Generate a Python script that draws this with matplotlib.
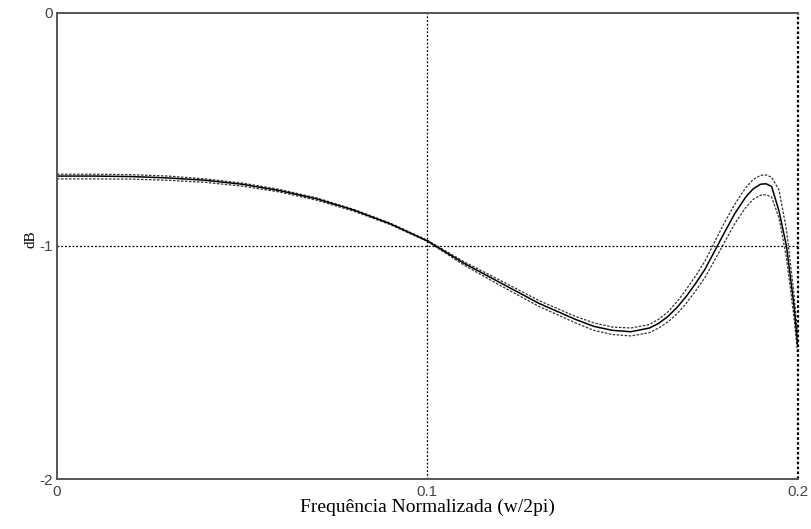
import matplotlib.pyplot as plt

# Magnitude response of the filter (dB) vs normalized frequency, with upper/lower bounds
FREQ = [0.0, 0.01, 0.02, 0.03, 0.04, 0.05, 0.06, 0.07, 0.08, 0.09, 0.10,
        0.11, 0.12, 0.13, 0.14, 0.145, 0.15, 0.155, 0.16, 0.1625, 0.165,
        0.1675, 0.17, 0.1725, 0.175, 0.178, 0.18, 0.183, 0.186, 0.188,
        0.19, 0.1915, 0.193, 0.195, 0.197, 0.199, 0.2]

GAIN_MID = [-0.700, -0.700, -0.702, -0.708, -0.718, -0.735, -0.762, -0.797,
            -0.845, -0.905, -0.978, -1.075, -1.160, -1.245, -1.315, -1.345,
            -1.362, -1.368, -1.352, -1.332, -1.302, -1.263, -1.215, -1.160,
            -1.100, -1.010, -0.950, -0.862, -0.790, -0.755, -0.735, -0.733,
            -0.745, -0.850, -1.000, -1.250, -1.420]

GAIN_UP = [-0.692, -0.692, -0.694, -0.700, -0.712, -0.730, -0.757, -0.793,
           -0.842, -0.902, -0.975, -1.068, -1.150, -1.233, -1.302, -1.330,
           -1.348, -1.352, -1.337, -1.314, -1.283, -1.238, -1.185, -1.128,
           -1.065, -0.970, -0.908, -0.822, -0.750, -0.715, -0.697, -0.695,
           -0.705, -0.760, -0.930, -1.200, -1.380]

GAIN_LOW = [-0.712, -0.712, -0.713, -0.718, -0.727, -0.743, -0.768, -0.803,
            -0.850, -0.908, -0.980, -1.083, -1.172, -1.258, -1.330, -1.362,
            -1.380, -1.386, -1.372, -1.352, -1.326, -1.290, -1.245, -1.192,
            -1.135, -1.050, -0.992, -0.905, -0.835, -0.800, -0.782, -0.780,
            -0.790, -0.880, -1.050, -1.300, -1.460]

X_TICKS = [0, 0.1, 0.2]
X_LABELS = ["0", "0.1", "0.2"]
Y_TICKS = [-2, -1, 0]
Y_LABELS = ["-2", "-1", "0"]

fig = plt.figure(figsize=(8.12, 5.29), dpi=100)
ax = fig.add_axes([0.0702, 0.0945, 0.912, 0.881])

dash = (0, (2.0, 1.2))
ax.plot(FREQ, GAIN_UP, color="#333333", lw=0.9, linestyle=dash)
ax.plot(FREQ, GAIN_LOW, color="#333333", lw=0.9, linestyle=dash)
ax.plot(FREQ, GAIN_MID, color="black", lw=1.1)

ax.set_xlim(0, 0.2)
ax.set_ylim(-2, 0)

# dotted grid at the middle and right edge
grid_style = dict(color="black", lw=0.9, linestyle=(0, (1.5, 1.5)))
ax.axvline(0.1, **grid_style)
ax.axvline(0.2, color="black", lw=1.6, linestyle=(0, (1.2, 1.0)), clip_on=False)
ax.axhline(-1, **grid_style)

ax.set_xticks(X_TICKS)
ax.set_xticklabels(X_LABELS)
ax.set_yticks(Y_TICKS)
ax.set_yticklabels(Y_LABELS)
ax.tick_params(axis="x", length=0, labelsize=11, colors="#444444", pad=4)
ax.tick_params(axis="y", length=0, labelsize=11, colors="#444444", pad=3)
for lab in ax.get_xticklabels() + ax.get_yticklabels():
    lab.set_family("Liberation Sans")

for side in ["left", "bottom", "top"]:
    ax.spines[side].set_color("#555555")
    ax.spines[side].set_linewidth(1.4)
ax.spines["right"].set_visible(False)

ax.set_xlabel("Frequência Normalizada (w/2pi)", family="Liberation Serif",
              fontsize=14, labelpad=0)
ax.set_ylabel("dB", family="Liberation Serif", fontsize=11)
ax.yaxis.set_label_coords(-0.027, 0.515)

fig.savefig("out.png", dpi=100)
